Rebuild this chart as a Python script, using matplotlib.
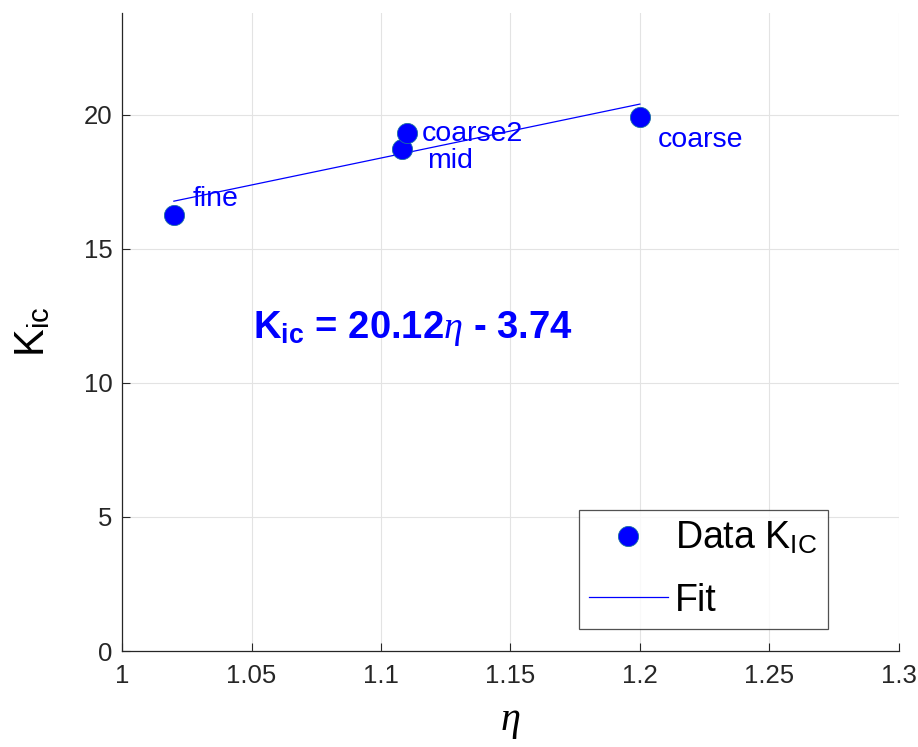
import matplotlib
matplotlib.use("Agg")
import matplotlib.pyplot as plt
import numpy as np

# data
eta = [1.020, 1.108, 1.110, 1.200]
kic = [16.25, 18.72, 19.33, 19.93]
names = ["fine", "mid", "coarse2", "coarse"]
label_offsets = [(19, 9), (25, -19), (15, -8), (18, -30)]  # pixels, baseline
fit_slope, fit_icept = 20.12, -3.74

plt.rcParams["font.family"] = ["Liberation Sans", "DejaVu Sans"]
plt.rcParams["mathtext.fontset"] = "custom"
plt.rcParams["mathtext.rm"] = "Liberation Sans"
plt.rcParams["mathtext.bf"] = "Liberation Sans:bold"
plt.rcParams["mathtext.it"] = "Liberation Serif:italic"

fig = plt.figure(figsize=(9.18, 7.47), dpi=100)
ax = fig.add_axes([0.133, 0.1285, 0.846, 0.854])

ax.grid(True, color="#e3e3e3", linewidth=0.8, zorder=0)
ax.set_axisbelow(True)

ax.plot(eta, kic, "o", color="#0000ff", markersize=14.5, markeredgecolor="#1a6fa0",
        markeredgewidth=0.6, label="Data K$_{\\mathrm{IC}}$", zorder=3)
xf = np.array([min(eta), max(eta)])
ax.plot(xf, fit_slope * xf + fit_icept, "-", color="#0000ff", linewidth=0.9,
        label="Fit", zorder=2)

for x, y, n, (dx, dy) in zip(eta, kic, names, label_offsets):
    ax.annotate(n, (x, y), xytext=(dx, dy), textcoords="offset pixels",
                color="#0000ff", fontsize=20.5, ha="left", va="baseline")

ax.text(1.0506, 11.68, r"K$_{\mathbf{ic}}$ = 20.12$\eta$ - 3.74", color="#0000ff",
        fontsize=27.5, fontweight="bold", ha="left", va="baseline")

ax.set_xlim(1.0, 1.3)
ax.set_ylim(0, 23.8)
ax.set_xticks([1, 1.05, 1.1, 1.15, 1.2, 1.25, 1.3])
ax.set_xticklabels(["1", "1.05", "1.1", "1.15", "1.2", "1.25", "1.3"])
ax.set_yticks([0, 5, 10, 15, 20])
ax.tick_params(direction="in", length=6, labelsize=18.5, colors="#262626")
ax.tick_params(axis="x", pad=9)
ax.tick_params(axis="y", pad=7)
for s in ["top", "right"]:
    ax.spines[s].set_visible(False)
for s in ["left", "bottom"]:
    ax.spines[s].set_color("#262626")
    ax.spines[s].set_linewidth(0.9)

ax.set_xlabel(r"$\eta$", fontsize=29, labelpad=11)
ax.set_ylabel(r"K$_{\mathrm{ic}}$", fontsize=30, labelpad=22)

leg = ax.legend(loc="lower right", bbox_to_anchor=(0.909, 0.0345), borderaxespad=0,
                fontsize=27, frameon=True, fancybox=False, edgecolor="#262626",
                handlelength=2.1, handletextpad=0.2, borderpad=0.28,
                labelspacing=0.68, markerscale=1.0)
leg.get_frame().set_linewidth(0.9)

fig.savefig("out.png", dpi=100)
